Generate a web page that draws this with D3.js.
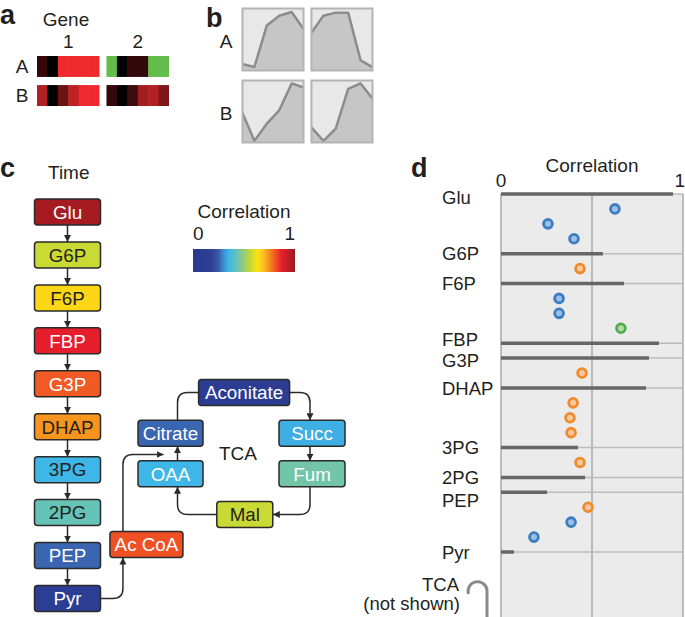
<!DOCTYPE html>
<html>
<head>
<meta charset="utf-8">
<script src="https://cdn.jsdelivr.net/npm/d3@7"></script>
<style>
  body { margin: 0; background: #fff; }
  svg { display: block; font-family: "Liberation Sans", Arial, sans-serif; }
</style>
</head>
<body>
<svg id="fig" width="685" height="617"></svg>
<script>
// ---- data ----
const genes = ['1', '2'];
const samples = ['A', 'B'];
const timePoints = [0, 1, 2, 3, 4, 5];

// panel a: expression heatmap (-1 green, 0 black, 1 red)
const heatA1 = [0.22, 0, 1, 1, 1, 1];
const heatA2 = [-1, 0, 0.22, 0.22, -1, -1];
const heatB1 = [0.74, 0, 0.45, 0.8, 1, 1];
const heatB2 = [0.22, 0, 0.25, 0.68, 0.75, 0.52];

// panel b: time profiles (0..1)
const profA1 = [0.1, 0.05, 0.73, 0.89, 0.95, 0.66];
const profA2 = [0.6, 0.89, 0.94, 0.94, 0.16, 0.04];
const profB1 = [0.49, 0.02, 0.3, 0.52, 0.96, 0.89];
const profB2 = [0.25, 0.02, 0.22, 0.87, 0.96, 0.7];

// panel c: pathway nodes and the correlation they are coloured by
const glycolysis = ['Glu', 'G6P', 'F6P', 'FBP', 'G3P', 'DHAP', '3PG', '2PG', 'PEP', 'Pyr'];
const glycoColorCorr = [0.98, 0.57, 0.65, 0.87, 0.80, 0.74, 0.35, 0.43, 0.26, 0.12];
const tcaNodes = ['Ac CoA', 'Citrate', 'OAA', 'Aconitate', 'Succ', 'Fum', 'Mal'];
const tcaColorCorr = [0.81, 0.26, 0.35, 0.08, 0.34, 0.45, 0.57];
const darkLabel = new Set(['G6P', 'F6P', 'DHAP', '3PG', '2PG', 'Mal']);

// colour map of the legend
const cmapStops = [0, 0.18, 0.25, 0.3, 0.35, 0.44, 0.52, 0.57, 0.63, 0.69, 0.74, 0.8, 0.87, 1];
const cmapColors = ['#2b3990', '#2d3f96', '#3a5ba9', '#3b8fd0', '#3fb6e8', '#6ac4b1', '#a8cf5a',
  '#cbd934', '#fde30c', '#fcc02a', '#f7941d', '#f15a24', '#e61e2b', '#9a1b1f'];

// panel d: metabolite correlations (bars) and enzyme correlations (dots), by row
const metabRow = [0, 4, 6, 10, 11, 13, 17, 19, 20, 24];
const metabCorr = [0.945, 0.56, 0.676, 0.868, 0.813, 0.797, 0.423, 0.462, 0.253, 0.071];
const enzymeRow = [1, 2, 3, 5, 7, 8, 9, 12, 14, 15, 16, 18, 21, 22, 23];
const enzymeCorr = [0.626, 0.258, 0.401, 0.434, 0.319, 0.319, 0.659, 0.445, 0.396, 0.379, 0.385, 0.434, 0.478, 0.385, 0.181];
const enzymeGroup = ['b', 'b', 'b', 'o', 'b', 'b', 'g', 'o', 'o', 'o', 'o', 'o', 'o', 'b', 'b'];

// ---- drawing ----
const svg = d3.select('#fig');
const ink = '#231f20';
const labelFont = 19;

function panelLetter(txt, x, y) {
  svg.append('text').attr('x', x).attr('y', y).attr('font-weight', 'bold')
    .attr('font-size', 27).attr('fill', ink).text(txt);
}

// == panel a ==
panelLetter('a', 0, 24);
const heat = { A: { 1: heatA1, 2: heatA2 }, B: { 1: heatB1, 2: heatB2 } };
const heatColor = d3.scaleLinear().domain([-1, 0, 1]).range(['#62bd4b', '#000000', '#ee2a2e']);
const gxA = d3.scaleBand().domain(genes).range([37, 169]).paddingInner(0.1);
const gyA = d3.scaleBand().domain(samples).range([56, 106]).paddingInner(0.28);
const cellX = d3.scaleBand().domain(timePoints).range([0, gxA.bandwidth()]);

svg.append('text').attr('x', 66).attr('y', 26).attr('text-anchor', 'middle')
  .attr('font-size', labelFont).attr('fill', ink).text('Gene');
genes.forEach(g => {
  svg.append('text').attr('x', gxA(g) + gxA.bandwidth() / 2).attr('y', 48).attr('text-anchor', 'middle')
    .attr('font-size', labelFont).attr('fill', ink).text(g);
});
samples.forEach(s => {
  svg.append('text').attr('x', 22).attr('y', gyA(s) + gyA.bandwidth() / 2).attr('dy', '0.36em')
    .attr('text-anchor', 'middle').attr('font-size', labelFont).attr('fill', ink).text(s);
  genes.forEach(g => {
    svg.append('g').attr('transform', `translate(${gxA(g)},${gyA(s)})`)
      .selectAll('rect').data(heat[s][g]).join('rect')
      .attr('x', (d, i) => cellX(i)).attr('y', 0)
      .attr('width', (d, i) => cellX.bandwidth() + (i < 5 ? 0.6 : 0))
      .attr('height', gyA.bandwidth())
      .attr('fill', d => heatColor(d));
  });
});

// == panel b ==
panelLetter('b', 206, 27);
const prof = { A: { 1: profA1, 2: profA2 }, B: { 1: profB1, 2: profB2 } };
const gxB = d3.scaleBand().domain(genes).range([242, 373]).paddingInner(0.1);
const gyB = d3.scaleBand().domain(samples).range([8, 143]).paddingInner(0.125);
samples.forEach(s => {
  svg.append('text').attr('x', 226).attr('y', gyB(s) + gyB.bandwidth() / 2 + 2).attr('dy', '0.36em')
    .attr('text-anchor', 'middle').attr('font-size', labelFont).attr('fill', ink).text(s);
  genes.forEach(g => {
    const w = gxB.bandwidth(), h = gyB.bandwidth();
    const px = d3.scalePoint().domain(timePoints).range([0, w]);
    const py = d3.scaleLinear().domain([0, 1]).range([h - 1, 1]);
    const cell = svg.append('g').attr('transform', `translate(${gxB(g)},${gyB(s)})`);
    const clipId = `clip-${s}${g}`;
    cell.append('clipPath').attr('id', clipId).append('rect').attr('width', w).attr('height', h);
    cell.append('rect').attr('width', w).attr('height', h).attr('fill', '#e8e8e8');
    const body = cell.append('g').attr('clip-path', `url(#${clipId})`);
    body.append('path').datum(prof[s][g])
      .attr('d', d3.area().x((d, i) => px(i)).y0(h).y1(d => py(d)))
      .attr('fill', '#c6c6c6');
    body.append('path').datum(prof[s][g])
      .attr('d', d3.line().x((d, i) => px(i)).y(d => py(d)))
      .attr('fill', 'none').attr('stroke', '#8c8c8c').attr('stroke-width', 2.5)
      .attr('stroke-linejoin', 'round');
    cell.append('rect').attr('x', 0.5).attr('y', 0.5).attr('width', w - 1).attr('height', h - 1)
      .attr('fill', 'none').attr('stroke', '#b4b4b4').attr('stroke-width', 2);
  });
});

// == panel c ==
panelLetter('c', 0, 177);
svg.append('text').attr('x', 48).attr('y', 179).attr('font-size', labelFont).attr('fill', ink).text('Time');

const cmap = d3.scaleLinear().domain(cmapStops).range(cmapColors).clamp(true);

// legend
const cb = d3.scaleLinear().domain([0, 1]).range([193, 295]);
const defs = svg.append('defs');
const grad = defs.append('linearGradient').attr('id', 'jet');
cmapStops.forEach((v, i) => grad.append('stop').attr('offset', v).attr('stop-color', cmapColors[i]));
svg.append('text').attr('x', (cb(0) + cb(1)) / 2).attr('y', 218).attr('text-anchor', 'middle')
  .attr('font-size', labelFont).attr('fill', ink).text('Correlation');
svg.append('text').attr('x', cb(0)).attr('y', 240).attr('font-size', labelFont).attr('fill', ink).text('0');
svg.append('text').attr('x', cb(1)).attr('y', 240).attr('text-anchor', 'end')
  .attr('font-size', labelFont).attr('fill', ink).text('1');
svg.append('rect').attr('x', cb(0)).attr('y', 249).attr('width', cb(1) - cb(0)).attr('height', 23)
  .attr('fill', 'url(#jet)');

// arrow marker
defs.append('marker').attr('id', 'arr')
  .attr('viewBox', '0 0 8 8').attr('refX', 8).attr('refY', 4)
  .attr('markerWidth', 7).attr('markerHeight', 7).attr('markerUnits', 'userSpaceOnUse')
  .attr('orient', 'auto')
  .append('path').attr('d', 'M0,0 L8,4 L0,8 z').attr('fill', '#2a2a2a');

const boxH = 26;
const colX = 67.5, colW = 66;
const colY = d3.scalePoint().domain(glycolysis).range([212, 598.5]);

// TCA layout on a small grid
const tx = d3.scaleLinear().domain([0, 2]).range([170.5, 312]);
const ty = d3.scaleLinear().domain([0, 3]).range([392.5, 514.5]);
const tcaGrid = {
  'Ac CoA': [-0.34, 3.74, 73], 'Citrate': [0, 1, 65], 'OAA': [0, 2, 65], 'Aconitate': [1.04, 0, 91],
  'Succ': [2, 1, 66], 'Fum': [2, 2, 66], 'Mal': [1.05, 3, 56]
};

const nodes = glycolysis.map((n, i) => ({ name: n, cx: colX, cy: colY(n), w: colW, v: glycoColorCorr[i] }))
  .concat(tcaNodes.map((n, i) => ({
    name: n, cx: tx(tcaGrid[n][0]), cy: ty(tcaGrid[n][1]), w: tcaGrid[n][2], v: tcaColorCorr[i]
  })));
const N = Object.fromEntries(nodes.map(d => [d.name, d]));
const nTop = n => N[n].cy - boxH / 2, nBot = n => N[n].cy + boxH / 2;
const nLft = n => N[n].cx - N[n].w / 2, nRgt = n => N[n].cx + N[n].w / 2;

const links = svg.append('g').attr('fill', 'none').attr('stroke', '#2a2a2a').attr('stroke-width', 1.5);
for (let i = 0; i < glycolysis.length - 1; i++) {
  links.append('path').attr('d', `M${colX},${nBot(glycolysis[i])} V${nTop(glycolysis[i + 1])}`)
    .attr('marker-end', 'url(#arr)');
}
const r = 10;
const acX = N['Ac CoA'].cx - 23.5;
const citX = N['Citrate'].cx + 7;
const sucX = N['Succ'].cx - 2;
const acoY = N['Aconitate'].cy, malY = N['Mal'].cy;
const joinY = (nBot('Citrate') + nTop('OAA')) / 2 + 1;
const tcaPaths = [
  [`M${nRgt('Pyr')},${N['Pyr'].cy} H${acX - r} Q${acX},${N['Pyr'].cy} ${acX},${N['Pyr'].cy - r} V${nBot('Ac CoA')}`, true],
  [`M${acX},${nTop('Ac CoA')} V${joinY + r} Q${acX},${joinY} ${acX + r},${joinY} H${citX - 14}`, true],
  [`M${citX},${nTop('OAA')} V${nBot('Citrate')}`, true],
  [`M${citX},${nTop('Citrate')} V${acoY + r} Q${citX},${acoY} ${citX + r},${acoY} H${nLft('Aconitate')}`, false],
  [`M${nRgt('Aconitate')},${acoY} H${sucX - r} Q${sucX},${acoY} ${sucX},${acoY + r} V${nTop('Succ')}`, true],
  [`M${sucX},${nBot('Succ')} V${nTop('Fum')}`, true],
  [`M${sucX},${nBot('Fum')} V${malY - r} Q${sucX},${malY} ${sucX - r},${malY} H${nRgt('Mal')}`, true],
  [`M${nLft('Mal')},${malY} H${citX + r} Q${citX},${malY} ${citX},${malY - r} V${nBot('OAA')}`, true]
];
tcaPaths.forEach(([d, head]) => {
  const p = links.append('path').attr('d', d);
  if (head) p.attr('marker-end', 'url(#arr)');
});

const nodeG = svg.append('g').selectAll('g').data(nodes).join('g')
  .attr('transform', d => `translate(${d.cx},${d.cy})`);
nodeG.append('rect')
  .attr('x', d => -d.w / 2).attr('y', -boxH / 2).attr('width', d => d.w).attr('height', boxH)
  .attr('rx', 3).attr('fill', d => cmap(d.v)).attr('stroke', '#2a2a2a').attr('stroke-width', 1.5);
nodeG.append('text').attr('text-anchor', 'middle').attr('dy', '0.36em').attr('font-size', 18.8)
  .attr('fill', d => darkLabel.has(d.name) ? ink : '#ffffff').text(d => d.name);

svg.append('text').attr('x', 238).attr('y', 460).attr('text-anchor', 'middle')
  .attr('font-size', labelFont).attr('fill', ink).text('TCA');

// == panel d ==
panelLetter('d', 411, 177);
const x = d3.scaleLinear().domain([0, 1]).range([501, 683]);
const y = d3.scaleLinear().domain([0, 24]).range([194, 552]);
const dBottom = 617;
const groupStroke = { b: '#3a7dc1', o: '#f08a2b', g: '#4dae4a' };
const groupFill = { b: '#9dbfe3', o: '#f7c8a0', g: '#b2dba5' };
// small vertical nudges so crowded labels don't collide
const labelNudge = { Glu: 3, FBP: -4, G3P: 2, PEP: 8 };

svg.append('text').attr('x', x(0.5)).attr('y', 172).attr('text-anchor', 'middle')
  .attr('font-size', labelFont).attr('fill', ink).text('Correlation');
svg.append('text').attr('x', x(0)).attr('y', 187).attr('text-anchor', 'middle')
  .attr('font-size', labelFont).attr('fill', ink).text('0');
svg.append('text').attr('x', x(1) + 2).attr('y', 187).attr('text-anchor', 'end')
  .attr('font-size', labelFont).attr('fill', ink).text('1');

svg.append('rect').attr('x', x(0)).attr('y', y(0)).attr('width', x(1) - x(0)).attr('height', dBottom - y(0))
  .attr('fill', '#ebebeb');
svg.append('g').selectAll('line').data([0, 0.5, 1]).join('line')
  .attr('x1', d => x(d)).attr('x2', d => x(d)).attr('y1', y(0)).attr('y2', dBottom)
  .attr('stroke', '#a9a9a9').attr('stroke-width', 1.5);
svg.append('g').selectAll('line').data(metabRow).join('line')
  .attr('x1', x(0)).attr('x2', x(1)).attr('y1', d => y(d)).attr('y2', d => y(d))
  .attr('stroke', '#bcbcbc').attr('stroke-width', 1.5);
svg.append('g').selectAll('line').data(metabCorr).join('line')
  .attr('x1', x(0)).attr('x2', d => x(d)).attr('y1', (d, i) => y(metabRow[i])).attr('y2', (d, i) => y(metabRow[i]))
  .attr('stroke', '#666666').attr('stroke-width', 3.5);
svg.append('g').selectAll('text').data(glycolysis).join('text')
  .attr('x', 442).attr('y', (d, i) => y(metabRow[i]) + (labelNudge[d] || 0)).attr('dy', '0.36em')
  .attr('font-size', 18.5).attr('fill', ink).text(d => d);
svg.append('g').selectAll('circle').data(enzymeCorr).join('circle')
  .attr('cx', d => x(d)).attr('cy', (d, i) => y(enzymeRow[i])).attr('r', 4.4)
  .attr('fill', (d, i) => groupFill[enzymeGroup[i]])
  .attr('stroke', (d, i) => groupStroke[enzymeGroup[i]]).attr('stroke-width', 2.8);

// TCA note
svg.append('text').attr('x', 459).attr('y', 591).attr('text-anchor', 'end')
  .attr('font-size', 18.5).attr('fill', ink).text('TCA');
svg.append('text').attr('x', 460).attr('y', 610).attr('text-anchor', 'end')
  .attr('font-size', 18.5).attr('fill', ink).text('(not shown)');
svg.append('path').attr('d', 'M468.5,594 A9.5,9.5 0 1 1 487,590 V617')
  .attr('fill', 'none').attr('stroke', '#8a8a8a').attr('stroke-width', 3);
</script>
</body>
</html>
